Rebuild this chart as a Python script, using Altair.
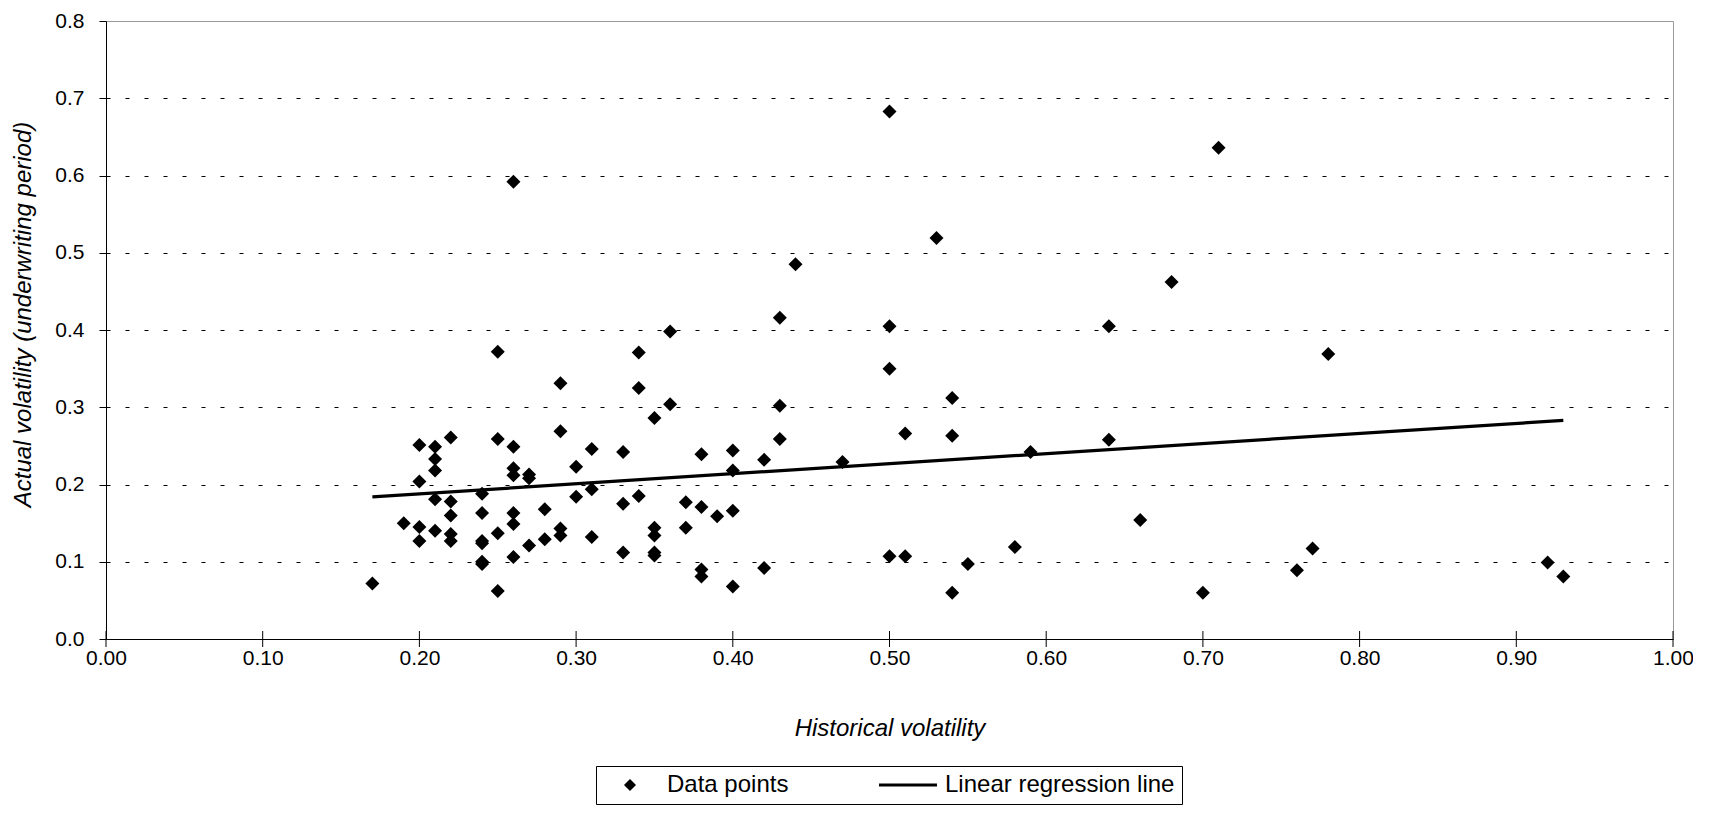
import altair as alt
import pandas as pd

# ---- data ----
hist_vol = [
    0.17, 0.19,
    0.20, 0.20, 0.20, 0.20,
    0.21, 0.21, 0.21, 0.21, 0.21,
    0.22, 0.22, 0.22, 0.22, 0.22,
    0.24, 0.24, 0.24, 0.24, 0.24, 0.24,
    0.25, 0.25, 0.25, 0.25,
    0.26, 0.26, 0.26, 0.26, 0.26, 0.26, 0.26,
    0.27, 0.27, 0.27,
    0.28, 0.28,
    0.29, 0.29, 0.29, 0.29,
    0.30, 0.30,
    0.31, 0.31, 0.31,
    0.33, 0.33, 0.33,
    0.34, 0.34, 0.34,
    0.35, 0.35, 0.35, 0.35, 0.35,
    0.36, 0.36,
    0.37, 0.37,
    0.38, 0.38, 0.38, 0.38,
    0.39,
    0.40, 0.40, 0.40, 0.40,
    0.42, 0.42,
    0.43, 0.43, 0.43,
    0.44, 0.47,
    0.50, 0.50, 0.50, 0.50,
    0.51, 0.51,
    0.53,
    0.54, 0.54, 0.54,
    0.55, 0.58, 0.59,
    0.64, 0.64,
    0.66, 0.68, 0.70, 0.71, 0.76, 0.77, 0.78, 0.92, 0.93,
]
actual_vol = [
    0.072, 0.150,
    0.251, 0.204, 0.145, 0.127,
    0.249, 0.233, 0.218, 0.181, 0.140,
    0.261, 0.178, 0.160, 0.136, 0.127,
    0.188, 0.163, 0.127, 0.124, 0.100, 0.097,
    0.372, 0.259, 0.137, 0.062,
    0.592, 0.249, 0.221, 0.212, 0.163, 0.149, 0.106,
    0.213, 0.208, 0.121,
    0.168, 0.129,
    0.331, 0.269, 0.143, 0.134,
    0.223, 0.184,
    0.246, 0.194, 0.132,
    0.242, 0.175, 0.112,
    0.371, 0.325, 0.185,
    0.286, 0.144, 0.134, 0.112, 0.108,
    0.398, 0.304,
    0.177, 0.144,
    0.239, 0.171, 0.090, 0.081,
    0.159,
    0.244, 0.218, 0.166, 0.068,
    0.232, 0.092,
    0.416, 0.302, 0.259,
    0.485, 0.229,
    0.683, 0.405, 0.350, 0.107,
    0.266, 0.107,
    0.519,
    0.312, 0.263, 0.060,
    0.097, 0.119, 0.242,
    0.405, 0.258,
    0.154, 0.462, 0.060, 0.636, 0.089, 0.117, 0.369, 0.099, 0.081,
]
reg_x = [0.17, 0.93]
reg_y = [0.184, 0.283]

x_ticks = [0.0, 0.1, 0.2, 0.3, 0.4, 0.5, 0.6, 0.7, 0.8, 0.9, 1.0]
y_ticks = [0.0, 0.1, 0.2, 0.3, 0.4, 0.5, 0.6, 0.7, 0.8]
series_names = ["Data points", "Linear regression line"]
# legend symbols: a diamond, and a short thick bar standing for the line
legend_shapes = ["diamond", "M-4.83,-0.27H4.83V0.27H-4.83Z"]

points_df = pd.DataFrame({"hist": hist_vol, "actual": actual_vol, "series": series_names[0]})
reg_df = pd.DataFrame({"hist": reg_x, "actual": reg_y})
xtick_df = pd.DataFrame({"hist": x_ticks})

FONT = "Liberation Sans"

x_enc = alt.X(
    "hist:Q",
    scale=alt.Scale(domain=[0, 1], nice=False, zero=False),
    axis=alt.Axis(
        values=x_ticks, format=".2f",
        labelFont=FONT, labelFontSize=21, labelColor="black",
        labelPadding=19, labelBaseline="middle",
        labelFlush=False, labelOverlap=False,
        ticks=False,
        domainColor="black", domainWidth=1, grid=False,
        title="Historical volatility", titleFont=FONT, titleFontSize=24,
        titleFontStyle="italic", titleFontWeight="normal", titleColor="black",
        titleX=783.5, titleY=89, titleBaseline="middle", titleAlign="center",
    ),
)
y_enc = alt.Y(
    "actual:Q",
    scale=alt.Scale(domain=[0, 0.8], nice=False, zero=False),
    axis=alt.Axis(
        values=y_ticks, format=".1f",
        labelFont=FONT, labelFontSize=21, labelColor="black",
        labelPadding=15, labelFlush=False, labelOverlap=False,
        tickSize=7, tickColor="black", tickWidth=1,
        domainColor="black", domainWidth=1,
        grid=True, gridColor="black", gridWidth=1, gridDash=[4, 15],
        gridOpacity={"condition": {"test": "datum.value < 0.05 || datum.value > 0.75", "value": 0}, "value": 1},
        title="Actual volatility (underwriting period)", titleFont=FONT,
        titleFontSize=24, titleFontStyle="italic", titleFontWeight="normal",
        titleColor="black", titleAngle=270, titleX=-83, titleY=293,
        titleBaseline="middle", titleAlign="center",
    ),
)

# tick marks that cross the x axis, as in the reference
x_tick_marks = alt.Chart(xtick_df).mark_rule(
    color="black", strokeWidth=1, yOffset=-8, y2Offset=8
).encode(
    x=x_enc,
    y=alt.datum(0),
    y2=alt.datum(0),
)

points = alt.Chart(points_df).mark_point(
    filled=True, size=196, color="black", opacity=1
).encode(
    x=x_enc,
    y=y_enc,
    shape=alt.Shape(
        "series:N",
        scale=alt.Scale(domain=series_names, range=legend_shapes),
        legend=alt.Legend(
            title=None, orient="none", legendX=490, legendY=745,
            direction="horizontal", columns=2, gridAlign="each",
            labelFont=FONT, labelFontSize=24, labelColor="black", labelLimit=400,
            labelOffset=25, symbolOffset=15,
            symbolSize=144, symbolStrokeWidth=0,
            symbolFillColor="black", symbolOpacity=1,
            strokeColor="black", padding=7, columnPadding=90,
        ),
    ),
)

reg_line = alt.Chart(reg_df).mark_line(color="black", strokeWidth=3.2).encode(
    x=x_enc, y=y_enc
)

chart = (
    alt.layer(points, reg_line, x_tick_marks)
    .properties(
        width=1567, height=618,
        padding={"left": 98, "top": 13, "right": 20, "bottom": 167},
        autosize="none",
        background="white",
    )
    .configure_view(stroke="#999999", strokeWidth=1)
)

chart.save("out.html", embed_options={"renderer": "svg", "actions": False})
